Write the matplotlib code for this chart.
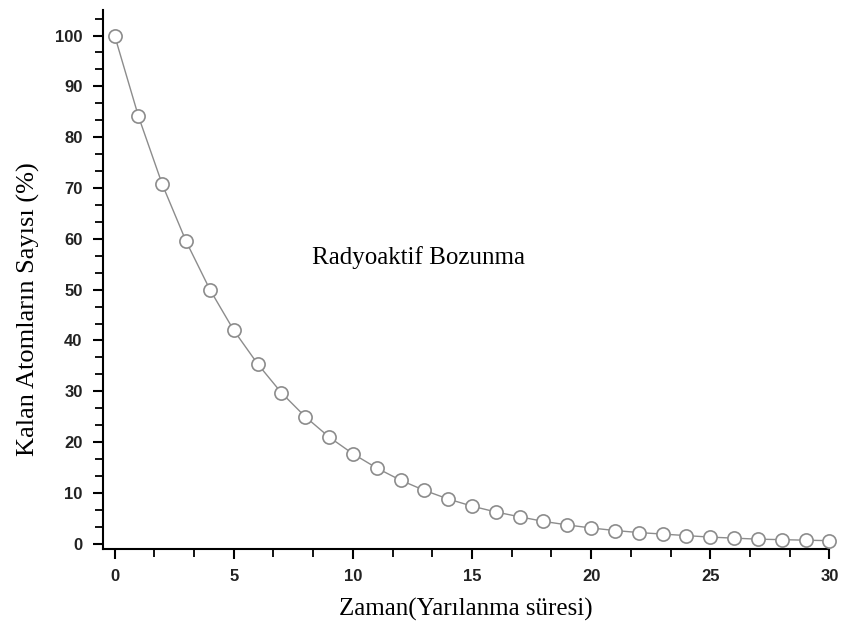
import matplotlib
matplotlib.use("Agg")
import matplotlib.pyplot as plt
from matplotlib.ticker import MultipleLocator, AutoMinorLocator

time = list(range(0, 31))
remaining = [100, 84.1, 70.7, 59.5, 50, 42.0, 35.4, 29.7, 25.0, 21.0, 17.7,
             14.9, 12.5, 10.5, 8.8, 7.4, 6.25, 5.3, 4.4, 3.7, 3.1,
             2.6, 2.2, 1.9, 1.6, 1.3, 1.1, 0.9, 0.8, 0.7, 0.6]

fig = plt.figure(figsize=(8.42, 6.33), dpi=100)
ax = fig.add_axes([0.122, 0.133, 0.863, 0.851])

ax.plot(time, remaining, color="#8c8c8c", lw=1.0, marker="o", markersize=9.5,
        markerfacecolor="white", markeredgecolor="#8c8c8c", markeredgewidth=1.2,
        clip_on=False, zorder=3)

ax.set_xlim(-0.5, 30)
ax.set_ylim(-1, 105)
ax.xaxis.set_major_locator(MultipleLocator(5))
ax.xaxis.set_minor_locator(AutoMinorLocator(3))
ax.yaxis.set_major_locator(MultipleLocator(10))
ax.yaxis.set_minor_locator(AutoMinorLocator(3))

for s in ["top", "right"]:
    ax.spines[s].set_visible(False)
for s in ["left", "bottom"]:
    ax.spines[s].set_linewidth(1.5)

ax.tick_params(which="major", direction="out", length=7.5, width=1.5,
               labelsize=12, pad=7)
ax.tick_params(which="minor", direction="out", length=6, width=1.3)
for lbl in ax.get_xticklabels() + ax.get_yticklabels():
    lbl.set_fontfamily("Liberation Sans")
    lbl.set_fontweight("bold")
    lbl.set_color("#222222")

ax.set_xlabel("Zaman(Yarılanma süresi)", family="Liberation Serif", fontsize=18)
ax.set_ylabel("Kalan Atomların Sayısı (%)", family="Liberation Serif", fontsize=19)
ax.xaxis.set_label_coords(0.499, -0.091)
ax.yaxis.set_label_coords(-0.087, 0.445)
ax.text(8.3, 56.4, "Radyoaktif Bozunma", family="Liberation Serif", fontsize=18,
        va="center", ha="left")

fig.savefig("out.png", dpi=100)
